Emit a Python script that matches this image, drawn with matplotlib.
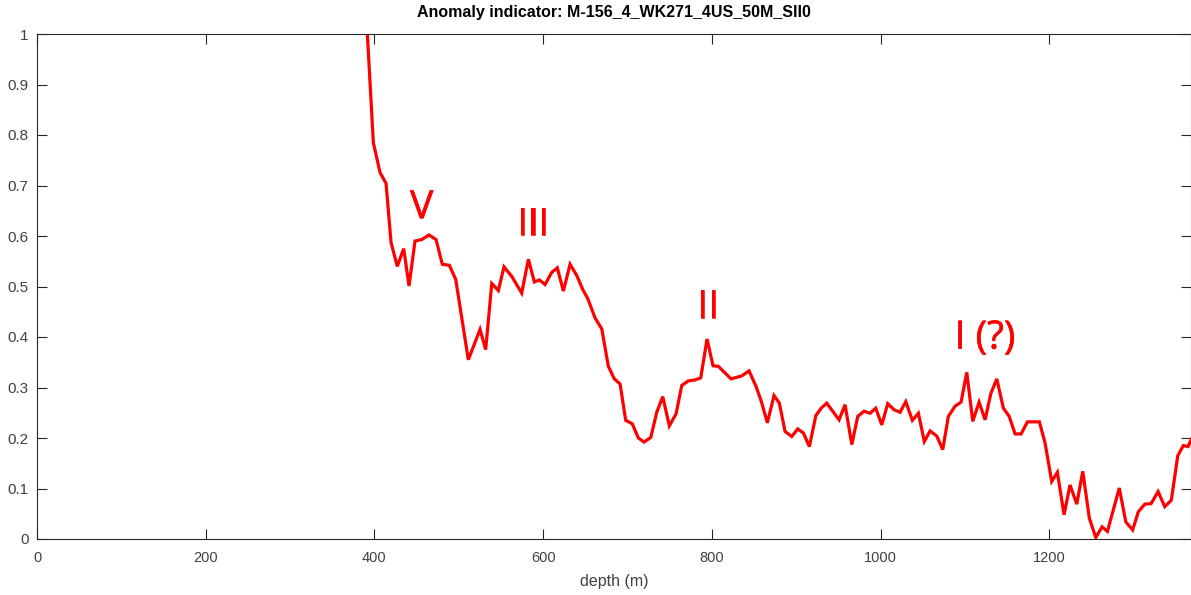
import numpy as np
import matplotlib
matplotlib.use("Agg")
import matplotlib.pyplot as plt
import matplotlib.patheffects as pe

# anomaly indicator, depth in metres
depth = [389.0, 398.7, 406.6, 413.8, 419.7, 427.1, 434.7, 441.0, 448.1, 456.1,
         464.7, 473.0, 480.5, 488.8, 496.4, 511.3, 525.2, 531.9, 539.1, 546.9,
         553.6, 562.8, 574.6, 582.5, 589.6, 595.5, 602.3, 610.2, 616.8, 624.0,
         631.9, 639.8, 647.0, 652.9, 661.5, 669.5, 677.3, 684.4, 691.2, 697.9,
         705.7, 712.9, 719.6, 727.6, 734.7, 741.8, 749.6, 757.6, 764.3, 772.1,
         780.1, 786.8, 794.3, 801.4, 807.7, 822.8, 835.4, 844.1, 852.4, 858.9,
         865.8, 873.7, 880.0, 886.8, 894.7, 901.8, 908.5, 915.6, 923.2, 929.5,
         936.2, 943.3, 950.8, 957.9, 965.9, 973.0, 980.4, 987.6, 994.3, 1001.4,
         1008.5, 1016.0, 1023.1, 1029.9, 1037.7, 1044.8, 1051.9, 1058.7, 1066.6, 1073.7,
         1080.4, 1088.3, 1095.4, 1102.2, 1109.3, 1116.8, 1123.9, 1130.7, 1137.8, 1145.6,
         1152.4, 1159.5, 1166.6, 1174.1, 1181.0, 1188.3, 1195.0, 1202.9, 1209.6, 1217.5,
         1224.6, 1232.6, 1239.7, 1247.5, 1255.1, 1262.6, 1268.9, 1276.0, 1283.0, 1290.7,
         1298.8, 1305.6, 1313.2, 1320.7, 1329.0, 1336.9, 1344.7, 1352.3, 1358.9, 1364.5,
         1372.0]
indicator = [1.08, 0.785, 0.726, 0.704, 0.587, 0.540, 0.575, 0.501, 0.590, 0.593,
             0.602, 0.593, 0.544, 0.542, 0.514, 0.355, 0.415, 0.375, 0.506, 0.492,
             0.539, 0.520, 0.487, 0.554, 0.509, 0.513, 0.504, 0.528, 0.537, 0.491,
             0.544, 0.522, 0.494, 0.476, 0.438, 0.416, 0.342, 0.317, 0.307, 0.235,
             0.228, 0.200, 0.192, 0.201, 0.251, 0.282, 0.224, 0.248, 0.304, 0.313,
             0.315, 0.319, 0.396, 0.343, 0.342, 0.317, 0.323, 0.333, 0.302, 0.271,
             0.230, 0.284, 0.269, 0.213, 0.203, 0.218, 0.210, 0.183, 0.244, 0.259,
             0.269, 0.253, 0.236, 0.266, 0.187, 0.243, 0.253, 0.249, 0.259, 0.226,
             0.268, 0.256, 0.251, 0.272, 0.235, 0.249, 0.193, 0.214, 0.204, 0.177,
             0.243, 0.263, 0.271, 0.330, 0.233, 0.271, 0.236, 0.288, 0.317, 0.259,
             0.243, 0.208, 0.208, 0.232, 0.232, 0.232, 0.190, 0.114, 0.132, 0.048,
             0.107, 0.069, 0.134, 0.041, 0.003, 0.024, 0.015, 0.058, 0.101, 0.034,
             0.018, 0.054, 0.069, 0.070, 0.094, 0.064, 0.077, 0.165, 0.185, 0.183,
             0.21]

# phase labels and where they sit
phase_labels = ["V", "III", "II", "I (?)"]
phase_depth = [456, 588, 795.5, 1124]
phase_value = [0.655, 0.621, 0.458, 0.397]

x_ticks = [0, 200, 400, 600, 800, 1000, 1200]
y_ticks = [0, 0.1, 0.2, 0.3, 0.4, 0.5, 0.6, 0.7, 0.8, 0.9, 1]
y_tick_labels = ["0", "0.1", "0.2", "0.3", "0.4", "0.5", "0.6", "0.7", "0.8", "0.9", "1"]

AX_COL = "#262626"
RED = "#ff0000"
plt.rcParams["font.family"] = ["Liberation Sans", "DejaVu Sans"]

fig = plt.figure(figsize=(11.91, 5.95), dpi=100)
ax = fig.add_axes([37 / 1191, 56 / 595, 1 - 37 / 1191, 505 / 595])

ax.plot(depth, indicator, color=RED, lw=2.3, solid_joinstyle="miter")

# slightly thickened regular weight, the bold face is too heavy
thicken = [pe.withStroke(linewidth=0.4, foreground=RED)]
for lab, d, v in zip(phase_labels, phase_depth, phase_value):
    ax.text(d, v, lab, color=RED, fontsize=28, ha="center", va="center",
            family=["Open Sans", "DejaVu Sans"], path_effects=thicken)

ax.set_xlim(0, 1368)
ax.set_ylim(0, 1)
ax.set_xticks(x_ticks)
ax.set_yticks(y_ticks)
ax.set_yticklabels(y_tick_labels)
ax.tick_params(direction="in", length=7, width=0.8, colors=AX_COL,
               labelcolor="#404040", labelsize=10.5, top=True, right=True)
ax.tick_params(axis="x", pad=9)
ax.tick_params(axis="y", pad=6, labelsize=11)
for sp in ax.spines.values():
    sp.set_color(AX_COL)
    sp.set_linewidth(0.8)

ax.set_xlabel("depth (m)", color="#404040", fontsize=11.5, labelpad=6)
ax.set_title("Anomaly indicator: M-156_4_WK271_4US_50M_SII0", fontsize=11.5,
             fontweight="bold", color="#000000", pad=12)

fig.savefig("out.png", dpi=100)
plt.close(fig)
